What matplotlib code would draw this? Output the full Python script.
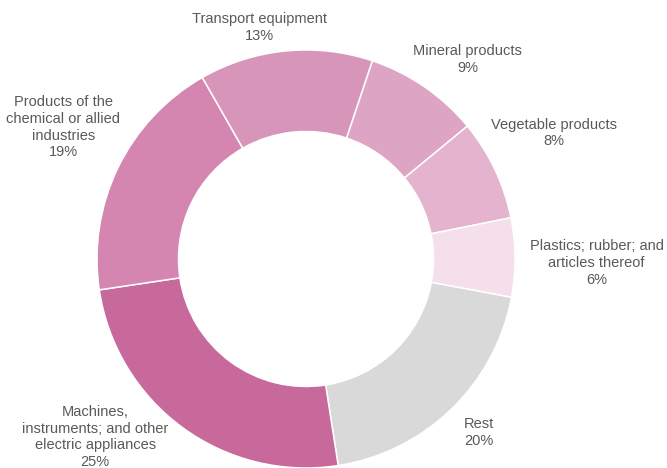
import numpy as np
import matplotlib
matplotlib.use("Agg")
import matplotlib.pyplot as plt

plt.rcParams['font.family'] = ['Liberation Sans', 'DejaVu Sans']

# shares, clockwise from the top right
labels = ['Mineral products', 'Vegetable products', 'Plastics; rubber; and\narticles thereof',
          'Rest', 'Machines,\ninstruments; and other\nelectric appliances',
          'Products of the\nchemical or allied\nindustries', 'Transport equipment']
shares = [8.9, 7.8, 6.1, 19.6, 25.1, 19.1, 13.4]
colors = ['#dea4c4', '#e4b4cf', '#f4dfea', '#d9d9d9', '#c8699c', '#d486b0', '#d895ba']

# label distance (in radii) and angle nudge (deg) for each slice
label_r = [1.23, 1.33, 1.39, 1.17, 1.32, 1.32, 1.13]
label_dang = [-4.5, 1.5, -1.2, 0.7, -13.5, -2.6, 5.7]

fig = plt.figure(figsize=(6.67, 4.68), dpi=100)
ax = fig.add_axes([0, 0, 1, 1])

wedges, _ = ax.pie(shares, colors=colors, startangle=71.5, counterclock=False,
                   radius=1.0, wedgeprops=dict(width=0.39, edgecolor='white', linewidth=1.1))

for i, w in enumerate(wedges):
    mid = np.deg2rad((w.theta1 + w.theta2) / 2 + label_dang[i])
    x = label_r[i] * np.cos(mid)
    y = label_r[i] * np.sin(mid)
    ax.text(x, y, f'{labels[i]}\n{round(shares[i])}%', ha='center', va='center',
            fontsize=10.5, color='#595959', linespacing=1.24)

ax.set_xlim(-1.464, 1.727)
ax.set_ylim(-1.0, 1.239)
ax.set_aspect('auto')
ax.axis('off')

fig.savefig('out.png', dpi=100)
